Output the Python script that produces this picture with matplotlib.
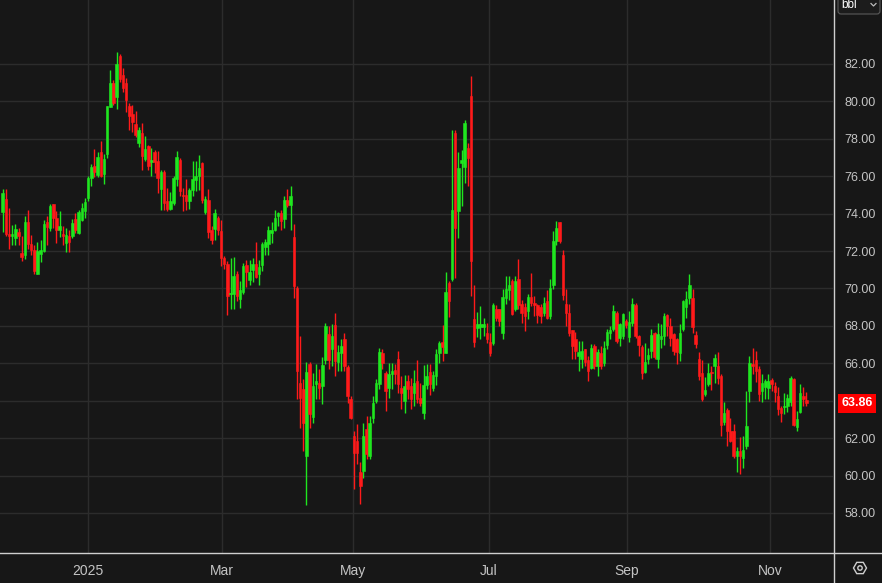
import numpy as np
import matplotlib
matplotlib.use("Agg")
import matplotlib.pyplot as plt
from matplotlib.patches import FancyBboxPatch, RegularPolygon, Circle
from matplotlib import transforms

# daily candles, Nov 2024 -> Nov 2025 (USD / bbl)
opens = [74.1, 74.8, 72.9, 72.8, 72.7, 73.0, 71.9, 71.8, 73.55, 72.4,
         72.07, 70.76, 71.84, 72.0, 73.55, 73.24, 74.5, 73.78, 73.1, 72.9,
         72.43, 72.8, 72.8, 73.7, 72.97, 73.67, 74.14, 74.82, 75.9, 76.57,
         76.08, 77.29, 76.12, 77.2, 79.72, 80.97, 80.26, 82.45, 81.4, 81.0,
         79.75, 79.32, 78.8, 77.77, 78.3, 76.92, 77.6, 76.74, 77.27, 76.79,
         75.32, 76.2, 74.7, 74.25, 74.57, 75.85, 76.88, 75.0, 75.0, 74.66,
         75.25, 75.8, 76.0, 76.7, 74.1, 74.75, 73.15, 73.2, 73.77, 73.06,
         71.62, 71.3, 69.7, 69.72, 70.78, 69.45, 69.8, 71.27, 70.45, 71.0,
         71.3, 70.77, 71.27, 72.23, 72.36, 72.97, 73.15, 73.86, 74.04, 73.72,
         74.75, 74.48, 72.73, 70.05, 64.96, 64.6, 61.07, 65.95, 63.14, 64.88,
         64.96, 64.79, 66.2, 67.55, 66.75, 68.05, 66.07, 66.57, 67.29, 65.82,
         64.1, 62.14, 61.84, 60.2, 60.23, 62.5, 61.04, 63.1, 64.0, 64.88,
         66.57, 65.46, 64.7, 65.41, 65.64, 66.25, 64.7, 63.98, 65.05, 64.79,
         64.4, 65.04, 64.16, 63.36, 64.86, 65.54, 64.7, 65.3, 66.57, 67.14,
         66.57, 70.29, 70.48, 78.3, 74.12, 76.7, 76.49, 77.5, 80.29, 68.38,
         67.9, 67.93, 67.93, 67.64, 67.14, 67.1, 68.88, 68.88, 67.6, 69.5,
         69.91, 70.39, 68.88, 70.52, 69.15, 69.02, 68.79, 69.56, 69.2, 69.1,
         69.02, 68.7, 69.32, 68.52, 70.21, 72.52, 73.54, 71.81, 69.15, 68.7,
         67.76, 67.32, 66.4, 66.25, 66.78, 66.16, 65.77, 66.92, 65.86, 66.57,
         65.99, 66.96, 67.6, 67.85, 68.7, 67.37, 67.46, 68.26, 67.42, 68.17,
         69.1, 67.46, 66.87, 65.54, 66.25, 66.66, 67.64, 66.25, 67.32, 67.46,
         68.56, 67.99, 67.55, 67.28, 66.53, 67.85, 69.02, 69.5, 69.5, 67.5,
         66.23, 65.48, 64.36, 64.89, 65.52, 65.84, 65.84, 65.34, 62.88, 63.5,
         62.4, 62.4, 61.03, 61.33, 60.93, 61.6, 64.54, 65.96, 66.19, 65.7,
         64.54, 64.72, 64.66, 65.12, 64.8, 64.23, 63.6, 63.65, 63.74, 63.92,
         65.16, 62.58, 63.38, 64.27, 64.05]
highs = [75.3, 75.3, 74.3, 73.4, 73.45, 73.25, 72.8, 73.9, 74.2, 72.85,
         72.3, 72.5, 72.57, 73.64, 73.9, 74.54, 74.54, 74.14, 74.14, 73.33,
         73.24, 73.1, 73.7, 74.05, 74.2, 74.55, 74.86, 76.03, 76.66, 77.47,
         77.29, 77.86, 77.2, 79.75, 81.7, 81.15, 82.63, 82.55, 81.8, 81.24,
         79.9, 79.8, 79.5, 78.64, 78.83, 78.16, 77.68, 77.5, 77.41, 77.33,
         76.35, 76.35, 75.37, 75.14, 76.03, 77.33, 76.97, 75.37, 75.85, 75.37,
         76.84, 76.8, 77.15, 76.74, 74.95, 75.3, 73.33, 74.25, 73.86, 73.68,
         71.75, 71.47, 71.65, 71.7, 70.96, 70.4, 71.35, 71.5, 71.5, 71.62,
         72.5, 71.5, 72.5, 72.65, 73.33, 73.54, 74.18, 74.08, 74.2, 74.96,
         75.3, 75.46, 73.45, 70.14, 67.46, 65.14, 66.07, 66.07, 65.5, 65.95,
         65.68, 66.36, 68.14, 68.0, 68.09, 68.68, 67.0, 67.29, 67.6, 65.9,
         64.25, 62.37, 62.73, 60.73, 62.82, 63.2, 63.18, 64.25, 65.14, 66.84,
         66.75, 65.6, 66.04, 66.04, 65.95, 66.66, 65.32, 65.4, 65.4, 65.23,
         65.64, 66.18, 64.96, 65.93, 65.95, 65.95, 65.6, 66.75, 67.2, 68.04,
         70.86, 70.41, 78.48, 78.48, 77.32, 77.41, 79.0, 77.77, 81.36, 70.21,
         68.74, 69.06, 68.44, 68.17, 67.64, 69.2, 69.1, 68.88, 69.95, 70.69,
         70.69, 70.48, 70.69, 71.55, 69.41, 69.24, 69.68, 70.84, 69.6, 69.15,
         69.15, 69.56, 69.91, 70.48, 73.06, 73.63, 73.54, 72.04, 69.95, 69.15,
         67.78, 67.67, 67.2, 67.2, 66.78, 66.39, 67.05, 67.01, 66.75, 66.93,
         67.2, 67.81, 67.99, 69.1, 68.79, 68.17, 68.7, 68.38, 68.79, 69.5,
         69.24, 67.5, 67.0, 67.1, 66.84, 67.85, 67.67, 68.17, 68.08, 68.7,
         68.61, 68.44, 67.64, 67.37, 68.08, 69.41, 69.86, 70.75, 69.95, 67.72,
         66.58, 66.19, 65.25, 66.01, 65.87, 66.49, 66.58, 65.43, 63.95, 63.6,
         63.06, 62.76, 61.51, 62.05, 62.13, 64.54, 66.37, 66.8, 66.67, 65.87,
         65.43, 65.16, 65.43, 65.2, 64.98, 64.72, 63.74, 64.41, 64.36, 65.34,
         65.2, 63.47, 64.89, 64.72, 64.45]
lows = [73.0, 72.8, 72.1, 72.3, 72.35, 72.35, 71.45, 71.6, 72.1, 71.8,
        70.76, 70.76, 71.44, 71.95, 72.3, 73.06, 73.24, 72.43, 72.74, 72.3,
        71.93, 71.95, 72.7, 72.97, 72.92, 73.6, 73.77, 74.7, 75.5, 75.94,
        75.94, 75.94, 75.6, 76.98, 79.72, 79.8, 79.6, 81.06, 80.5, 79.45,
        78.45, 78.37, 78.1, 77.56, 76.35, 76.8, 76.35, 75.99, 76.17, 75.1,
        74.22, 74.22, 74.13, 74.22, 74.48, 75.46, 74.93, 74.13, 74.22, 74.25,
        74.93, 75.2, 75.28, 74.57, 74.0, 72.7, 72.4, 72.6, 72.88, 71.2,
        71.05, 68.6, 68.9, 68.9, 69.35, 68.98, 69.7, 70.06, 70.2, 70.35,
        70.54, 70.2, 70.96, 71.8, 71.8, 72.43, 73.06, 73.33, 73.15, 73.24,
        74.35, 73.15, 69.5, 64.07, 62.55, 61.3, 58.4, 62.55, 62.82, 64.07,
        64.07, 63.8, 65.95, 65.68, 65.86, 65.32, 65.6, 65.6, 65.6, 63.9,
        63.0, 59.27, 60.6, 58.5, 59.87, 60.86, 60.9, 62.82, 63.9, 64.6,
        65.68, 63.45, 64.16, 64.6, 64.88, 64.43, 63.54, 63.36, 64.07, 63.54,
        63.73, 63.9, 63.72, 63.0, 64.6, 64.29, 64.52, 64.82, 66.04, 66.13,
        66.54, 68.45, 70.39, 70.57, 72.7, 74.4, 75.64, 75.5, 69.6, 66.89,
        67.4, 67.28, 67.46, 67.1, 66.4, 67.0, 68.26, 67.99, 67.32, 69.15,
        69.41, 68.56, 68.79, 68.88, 68.17, 67.72, 68.35, 69.06, 68.52, 68.17,
        68.17, 68.52, 68.35, 68.35, 69.95, 72.35, 72.44, 69.41, 67.99, 67.46,
        66.25, 66.25, 65.6, 65.77, 65.86, 65.06, 65.68, 65.68, 65.32, 65.68,
        65.86, 66.75, 67.28, 67.72, 67.1, 66.92, 67.28, 67.9, 67.14, 67.99,
        67.37, 66.39, 65.14, 65.5, 65.95, 66.3, 66.25, 65.77, 66.84, 67.0,
        67.46, 66.92, 66.43, 65.95, 66.13, 67.72, 68.44, 69.15, 67.6, 66.83,
        65.12, 64.0, 64.27, 64.77, 64.59, 64.95, 64.9, 62.14, 62.7, 61.6,
        61.8, 60.93, 60.21, 60.09, 60.39, 61.42, 63.91, 65.43, 64.98, 64.0,
        63.95, 64.09, 64.09, 64.54, 63.91, 63.24, 62.85, 63.29, 63.38, 63.74,
        62.67, 62.4, 63.35, 63.7, 63.7]
closes = [75.1, 72.9, 72.8, 72.9, 73.2, 72.8, 71.7, 73.55, 72.4, 72.07,
          70.96, 72.0, 72.07, 73.46, 73.27, 74.43, 73.78, 73.1, 73.33, 72.8,
          72.85, 72.47, 73.5, 73.1, 74.1, 74.32, 74.6, 75.9, 76.48, 76.2,
          77.02, 76.03, 76.9, 79.75, 81.0, 79.9, 82.0, 81.2, 80.7, 80.08,
          79.2, 78.9, 78.2, 78.46, 77.06, 77.45, 76.53, 76.88, 76.74, 75.9,
          76.2, 74.57, 74.25, 74.66, 75.9, 77.02, 75.2, 74.96, 74.66, 75.25,
          75.85, 76.03, 76.44, 74.75, 74.8, 73.0, 72.6, 74.04, 73.15, 71.64,
          71.3, 69.6, 69.75, 70.65, 69.62, 69.9, 71.2, 70.9, 70.9, 71.33,
          70.6, 71.13, 72.37, 72.48, 73.1, 73.1, 73.77, 74.04, 73.6, 74.75,
          74.48, 74.96, 70.14, 65.6, 64.16, 62.8, 65.54, 63.27, 64.79, 65.05,
          64.7, 65.9, 68.0, 66.2, 67.46, 66.13, 66.6, 66.93, 65.86, 64.25,
          63.1, 61.2, 61.2, 59.46, 62.14, 61.13, 62.82, 63.9, 64.96, 66.6,
          66.04, 64.52, 65.41, 65.6, 65.41, 64.88, 64.43, 64.79, 64.6, 64.07,
          64.96, 64.07, 63.9, 64.86, 65.32, 64.88, 65.36, 66.5, 67.1, 66.89,
          69.79, 69.34, 74.21, 73.24, 76.44, 76.88, 78.84, 76.97, 71.46, 67.14,
          68.12, 68.1, 68.1, 67.32, 66.57, 69.1, 68.44, 68.26, 69.56, 69.98,
          70.17, 68.61, 70.39, 69.1, 68.7, 68.52, 69.56, 69.24, 69.1, 68.56,
          68.52, 69.2, 68.44, 70.04, 72.52, 73.24, 72.52, 69.63, 68.7, 67.64,
          66.92, 66.66, 66.6, 66.66, 66.07, 65.6, 66.84, 65.86, 66.6, 65.86,
          66.84, 67.69, 67.76, 68.79, 67.19, 68.08, 68.61, 68.03, 68.2, 69.15,
          67.46, 66.96, 65.5, 66.07, 66.43, 67.5, 66.36, 67.55, 67.46, 68.52,
          67.99, 67.37, 66.66, 66.6, 67.64, 69.33, 69.45, 70.16, 67.95, 67.03,
          65.34, 64.09, 64.57, 65.46, 65.46, 66.26, 65.2, 62.7, 63.35, 62.4,
          61.87, 61.07, 61.33, 61.03, 61.39, 62.67, 66.01, 65.84, 65.6, 64.36,
          64.95, 65.07, 65.07, 64.89, 64.45, 63.56, 63.35, 63.74, 64.13, 65.2,
          62.7, 63.03, 64.41, 64.09, 63.86]

month_labels = ['2025', 'Mar', 'May', 'Jul', 'Sep', 'Nov']
month_pos = [27.0, 69.3, 110.7, 153.7, 197.3, 242.5]
last_price = closes[-1]

BG = '#171717'
GRID = '#2c2c2c'
UP = '#1fe61f'
DOWN = '#ff1a1a'
TXT = '#c4c4c4'

W, H = 882, 583
fig = plt.figure(figsize=(W / 100, H / 100), dpi=100, facecolor=BG)
ax = fig.add_axes([0, 30 / H, 833 / W, 553 / H], facecolor=BG)

o = np.array(opens)
c = np.array(closes)
x = np.arange(len(o))
cols = [UP if cc >= oo else DOWN for oo, cc in zip(o, c)]

ax.vlines(x, lows, highs, colors=cols, lw=1.0, zorder=3)
body = np.maximum(np.abs(c - o), 0.06)
ax.bar(x, body, bottom=np.minimum(o, c), width=0.8, color=cols,
       edgecolor=cols, linewidth=0.4, zorder=4)

ax.set_xlim(-0.85, 262.4)
ax.set_ylim(55.86, 85.42)

yt = np.arange(58, 83, 2)
ax.set_yticks(yt)
ax.set_yticklabels(['' if v == 64 else f'{v:.2f}' for v in yt])
ax.yaxis.tick_right()
ax.set_xticks(month_pos)
ax.set_xticklabels(month_labels)
ax.tick_params(axis='y', length=0, pad=8, labelsize=9, labelcolor=TXT)
ax.tick_params(axis='x', length=0, pad=8, labelsize=10, labelcolor=TXT)
for lab in ax.get_yticklabels():
    lab.set_family(['Liberation Sans', 'DejaVu Sans'])
for lab in ax.get_xticklabels():
    lab.set_family(['Liberation Sans Narrow', 'Liberation Sans', 'DejaVu Sans'])
ax.grid(True, color=GRID, lw=1.0, zorder=0)
ax.set_axisbelow(True)
for s in ax.spines.values():
    s.set_visible(False)

# last price marker on the right scale
tr = transforms.blended_transform_factory(ax.transAxes, ax.transData)
ax.annotate(f'{last_price:.2f}', xy=(1.0, last_price), xycoords=tr,
            xytext=(6, 0), textcoords='offset points', ha='left', va='center',
            fontsize=9, fontweight='bold', color='white',
            family=['Liberation Sans', 'DejaVu Sans'], annotation_clip=False,
            bbox=dict(boxstyle='square,pad=0.3', fc='#ff0000', ec='none'))

# overlay in pixel coordinates for frame lines and widgets
ov = fig.add_axes([0, 0, 1, 1], facecolor='none')
ov.set_xlim(0, W)
ov.set_ylim(H, 0)
ov.axis('off')
ov.plot([0, W], [553, 553], color='#cfcfcf', lw=1.0)
ov.plot([833.5, 833.5], [0, H], color='#cfcfcf', lw=1.0)
ov.add_patch(FancyBboxPatch((838, -6), 42, 20, boxstyle='round,pad=0,rounding_size=3',
                            fc='#1c1c1c', ec='#5a5a5a', lw=0.8))
ov.text(841, 5, 'bbl', color='white', fontsize=8.5, va='center', ha='left',
        family=['Liberation Sans', 'DejaVu Sans'])
ov.plot([871, 873.5, 876], [3.5, 6, 3.5], color='#bbbbbb', lw=0.9)
ov.add_patch(RegularPolygon((860, 568), 6, radius=6.5, orientation=np.pi / 6,
                            fc='none', ec='#cfcfcf', lw=1.0))
ov.add_patch(Circle((860, 568), 2.2, fc='none', ec='#cfcfcf', lw=1.0))

fig.savefig('out.png', dpi=100, facecolor=BG)
